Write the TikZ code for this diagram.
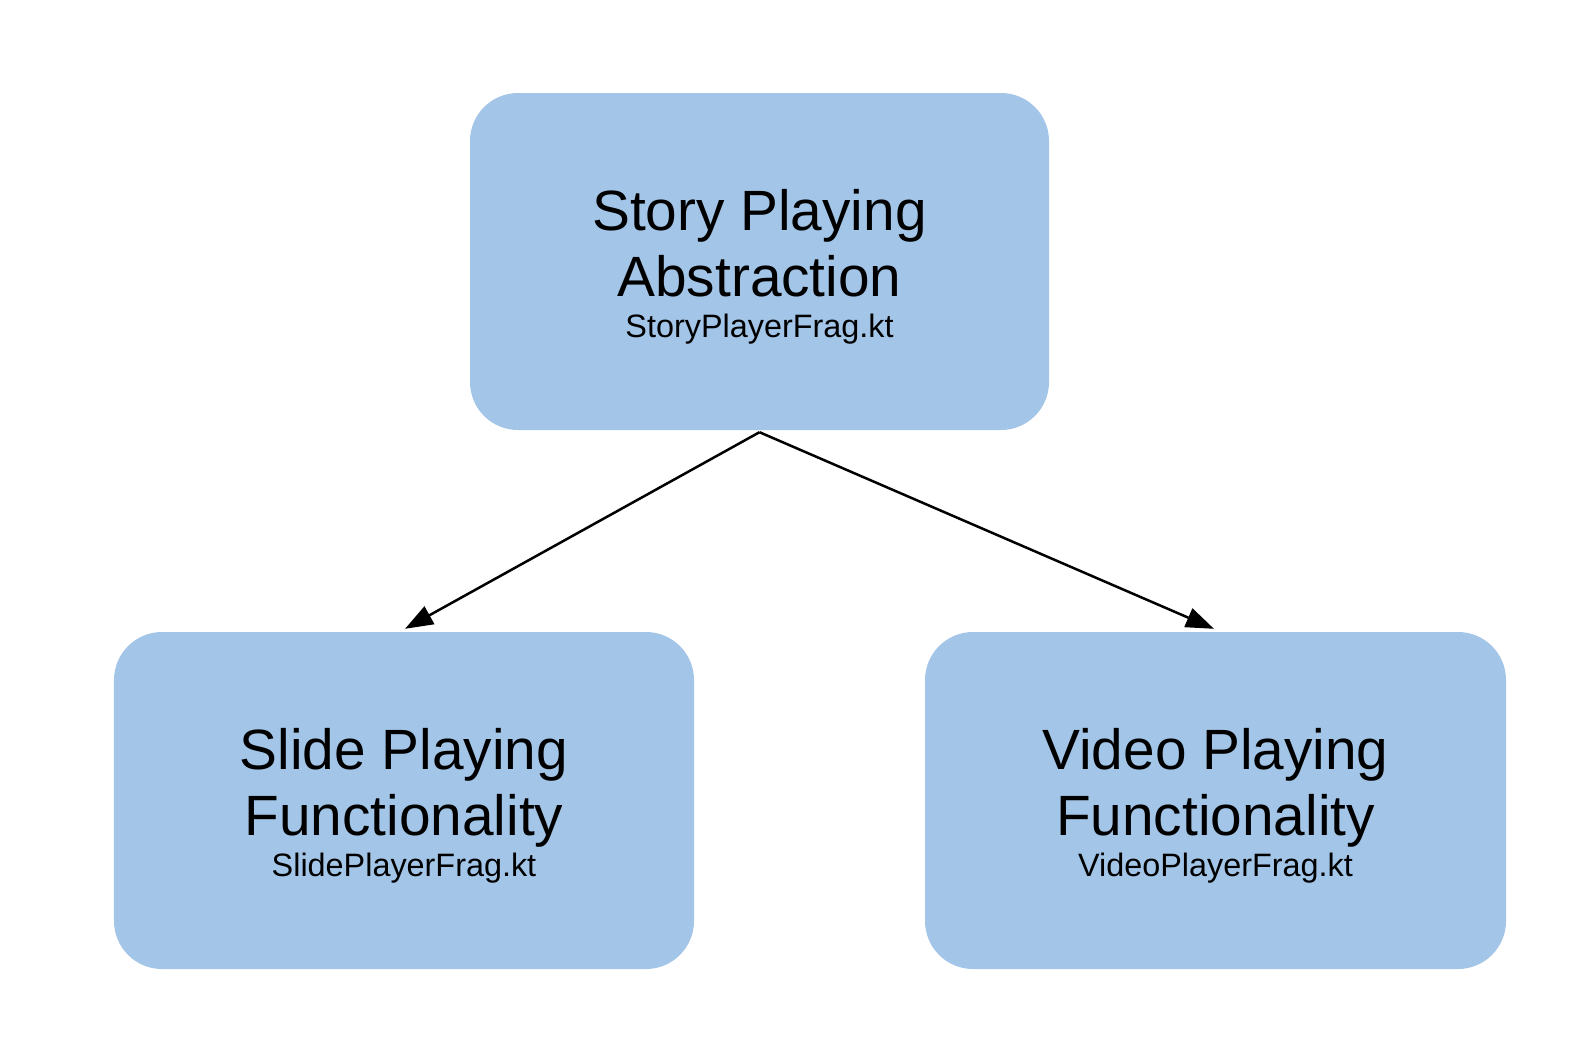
\documentclass[tikz,border=0pt]{standalone}
\usepackage{fontspec}
\setmainfont{Liberation Sans}
\usetikzlibrary{arrows.meta}
\definecolor{boxblue}{HTML}{A3C5E7}
\begin{document}
\begin{tikzpicture}[x=1bp,y=-1bp,
  box/.style={rectangle, draw=none, fill=boxblue, rounded corners=48bp, inner sep=0pt, minimum height=337bp},
  bigtxt/.style={anchor=base, inner sep=0pt, font=\fontsize{57}{66}\selectfont},
  smalltxt/.style={anchor=base, inner sep=0pt, font=\fontsize{32.5}{38}\selectfont},
  arr/.style={line width=2.5bp, -{Triangle[length=28bp,width=20bp]}}]
\useasboundingbox (0,0) rectangle (1586,1056);
\node[box, minimum width=579bp] (st) at (759.5,261.5) {};
\node[box, minimum width=580bp] (sl) at (404,800.5) {};
\node[box, minimum width=581bp] (vi) at (1215.5,800.5) {};
% top texts
\node[bigtxt] (st1) at (759.5,230.5) {Story Playing};
\node[bigtxt] (st2) at (759.5,296) {Abstraction};
\node[smalltxt] (st3) at (759.5,337.8) {StoryPlayerFrag.kt};
% left texts
\node[bigtxt] (sl1) at (404,769.5) {Slide Playing};
\node[bigtxt] (sl2) at (404,835) {Functionality};
\node[smalltxt] (sl3) at (404,876.8) {SlidePlayerFrag.kt};
% right texts
\node[bigtxt] (vi1) at (1215.5,769.5) {Video Playing};
\node[bigtxt] (vi2) at (1215.5,835) {Functionality};
\node[smalltxt] (vi3) at (1215.5,876.8) {VideoPlayerFrag.kt};
% connectors
\coordinate (apex) at ([shift={(0,2)}]st.south);
\draw[arr] (apex) -- ([shift={(1,-3)}]sl.north);
\draw[arr] (apex) -- ([shift={(-1.5,-3)}]vi.north);
\end{tikzpicture}
\end{document}
